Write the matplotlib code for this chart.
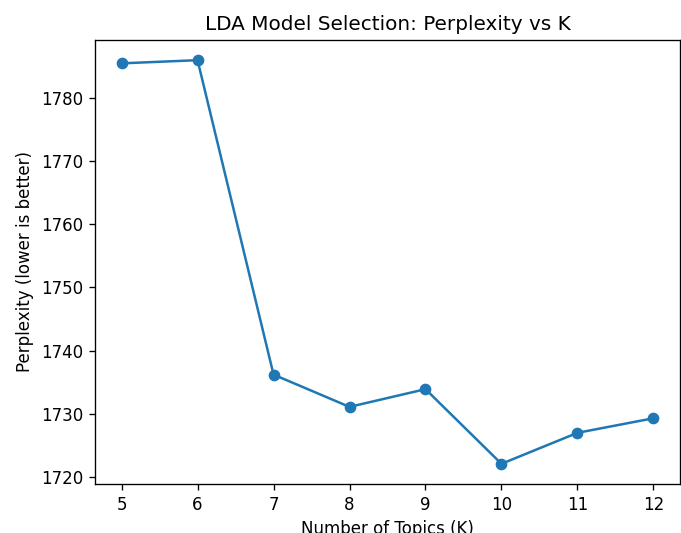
import matplotlib
matplotlib.use("Agg")
import matplotlib.pyplot as plt

k_values = [5, 6, 7, 8, 9, 10, 11, 12]
perplexity = [1785.4, 1785.9, 1736.2, 1731.1, 1733.9, 1722.1, 1727.0, 1729.3]

DPI = 120
fig = plt.figure(figsize=(681/DPI, 533/DPI), dpi=DPI)
ax = fig.add_axes([95/681, 1 - 484/533, 585/681, 444/533])
ax.plot(k_values, perplexity, marker='o', color='#1f77b4')
ax.set_title("LDA Model Selection: Perplexity vs K")
ax.set_xlabel("Number of Topics (K)")
ax.set_ylabel("Perplexity (lower is better)")
ax.set_xticks(k_values)
fig.savefig("out.png", dpi=DPI)
